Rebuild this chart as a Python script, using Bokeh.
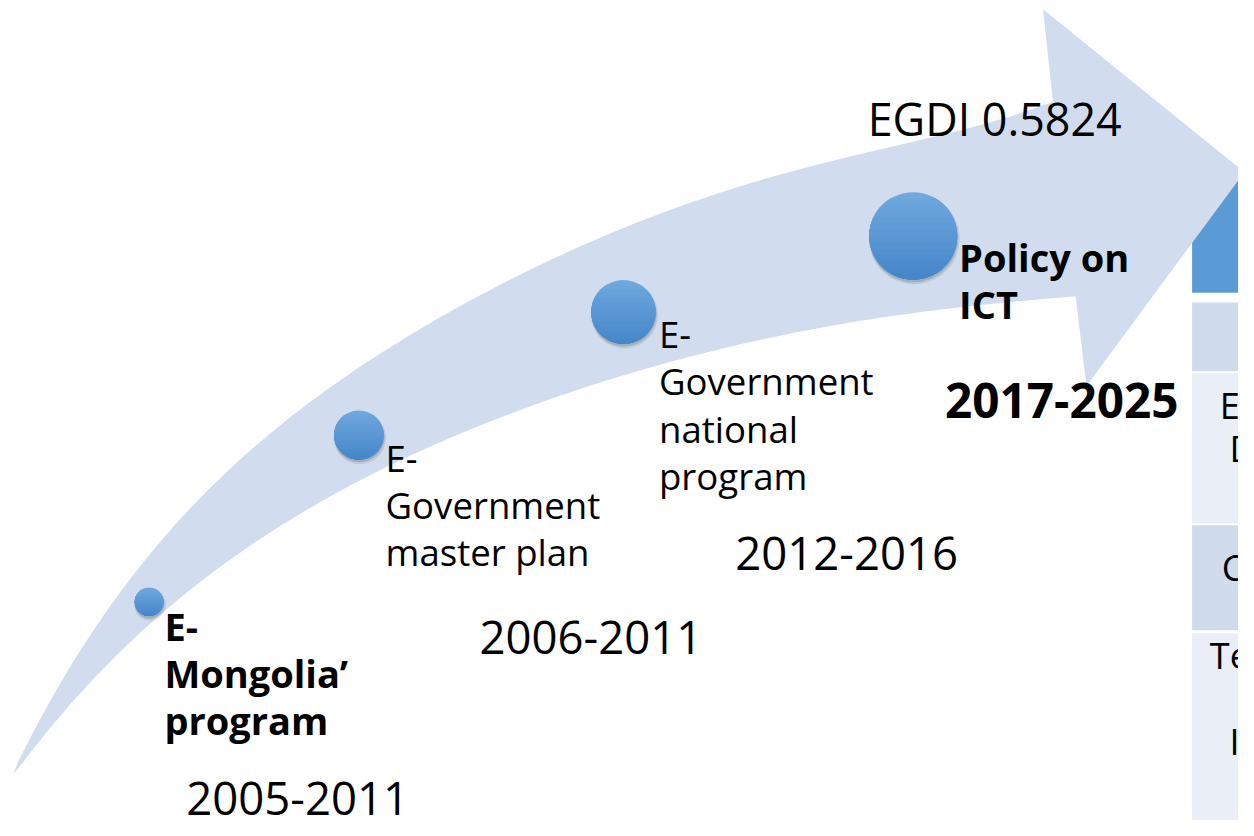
import numpy as np
from bokeh.plotting import figure
from bokeh.models import Range1d
from bokeh.embed import file_html
from bokeh.resources import INLINE
from bokeh.core.properties import value

# ---------------- data ----------------
periods = ["2005-2011", "2006-2011", "2012-2016", "2017-2025"]
period_bold = [False, False, False, True]
programs = [
    ["E-", "Mongolia’", "program"],
    ["E-", "Government", "master plan"],
    ["E-", "Government", "national", "program"],
    ["Policy on", "ICT"],
]
program_bold = [True, False, False, True]
egdi_label = "EGDI 0.5824"
table_texts = [[], ["E", "D"], ["C"], ["Te", "I"]]

# ---------------- layout (slide pixel coordinates, 1254 x 836) ----------------
milestone_x = [150.5, 363, 631, 924.5]
milestone_y = [613, 443, 317.5, 240]
milestone_r = [14.5, 25, 32.5, 44.5]
label_x = [166, 390, 667, 971]
label_y0 = [653, 481, 355, 277]
line_gap = 48
period_cx = [301, 598, 857, 1075]
period_base = [832, 668, 582, 427]
egdi_cx, egdi_base = 1007, 138

upper_x = [13, 45, 80, 110, 137, 167, 210, 270, 317, 417, 517, 650, 707, 773, 840, 907, 973, 1066]
upper_y = [788, 722, 662, 623, 582, 542, 499, 446, 410, 339, 281, 224, 204, 184, 165, 148, 130, 104]
head_x = [1056, 1260, 1100, 1089]
head_y = [9, 175, 393, 302]
lower_x = [13, 50, 100, 130, 167, 210, 260, 320, 350, 450, 550, 640, 740, 840, 940, 1040, 1089]
lower_y = [788, 743, 690, 657, 617, 583, 550, 517, 500, 447, 407, 380, 353, 332, 317, 305, 302]

table_left, table_right = 1207, 1270
row_top = [172, 308, 380, 535, 645]
row_bottom = [298, 378, 533, 642, 850]
row_colors = ["#5b9bd5", "#d0dbee", "#e9eef7", "#d0dbee", "#e9eef7"]
table_text_x = [[], [1235, 1245], [1237], [1225, 1245]]
table_text_y = [[], [427, 471], [592], [682, 770]]

arrow_color = "#d1ddef"
FONT = value("Open Sans")
BASE_SHIFT = 0.40  # alphabetic baseline correction, in em

W, H = 1254, 836
p = figure(width=1238, height=820, x_range=Range1d(0, W), y_range=Range1d(H, 0),
           output_backend="svg", toolbar_location=None, min_border=0)
p.axis.visible = False
p.grid.visible = False
p.outline_line_color = None
p.background_fill_color = "white"
p.border_fill_color = "white"

# table (partly hidden behind the arrow head)
p.quad(left=[table_left] * len(row_top), right=[table_right] * len(row_top),
       top=row_top, bottom=row_bottom, fill_color=row_colors, line_color=None)

# arrow: smooth both edges of the curved body
cu = np.polyfit(upper_x, upper_y, 5)
cl = np.polyfit(lower_x, lower_y, 5)
ux = np.linspace(upper_x[0], upper_x[-1], 200)
lx = np.linspace(lower_x[-1], lower_x[0], 200)
uy = np.polyval(cu, ux)
ly = np.polyval(cl, lx)
uy[0] = upper_y[0]
ly[-1] = lower_y[0]
ax = list(ux) + head_x + list(lx)
ay = list(uy) + head_y + list(ly)
p.patch(ax, ay, fill_color=arrow_color, line_color=None)

# milestone circles with shadow and vertical gradient
def band(cx, cy, r, ytop, n=60):
    t0 = np.arcsin(np.clip((ytop - cy) / r, -1, 1))
    th = np.linspace(t0, np.pi - t0, n)
    return list(cx + r * np.cos(th)), list(cy + r * np.sin(th))

top_col = np.array([112, 168, 221])
bot_col = np.array([70, 135, 203])
for cx, cy, r in zip(milestone_x, milestone_y, milestone_r):
    p.circle(x=[cx + 1], y=[cy + 3], radius=r + 1.5, fill_color="#303030", fill_alpha=0.12, line_color=None)
    p.circle(x=[cx + 0.5], y=[cy + 2], radius=r + 0.5, fill_color="#303030", fill_alpha=0.18, line_color=None)
    nb = 14
    xs_list, ys_list, cols = [], [], []
    for i in range(nb):
        ytop = cy - r + 2 * r * i / nb
        xs, ys = band(cx, cy, r, ytop)
        xs_list.append(xs)
        ys_list.append(ys)
        f = i / (nb - 1)
        c = (top_col * (1 - f) + bot_col * f).astype(int)
        cols.append("#%02x%02x%02x" % tuple(c))
    p.patches(xs_list, ys_list, fill_color=cols, line_color=None)


def put_text(xs, ys, texts, size, bold=False, align="left"):
    p.text(x=xs, y=[y - BASE_SHIFT * size for y in ys], text=texts, text_font=FONT,
           text_font_size=value("%.1fpx" % size),
           text_font_style="bold" if bold else "normal",
           text_baseline="alphabetic", text_align=align, text_color="black")


# program labels
for lines, x0, y0, bold in zip(programs, label_x, label_y0, program_bold):
    put_text([x0] * len(lines), [y0 + i * line_gap for i in range(len(lines))], lines,
             38.0 if bold else 36.6, bold)

# periods
for t, cx, by, bold in zip(periods, period_cx, period_base, period_bold):
    put_text([cx], [by], [t], 47.7 if bold else 45.5, bold, "center")

# EGDI
put_text([egdi_cx], [egdi_base], [egdi_label], 44.8, False, "center")

# table texts (cut by the slide edge)
for txts, xs, ys in zip(table_texts, table_text_x, table_text_y):
    if txts:
        put_text(xs, ys, txts, 36.0)

open("out.html", "w").write(file_html(p, INLINE))
